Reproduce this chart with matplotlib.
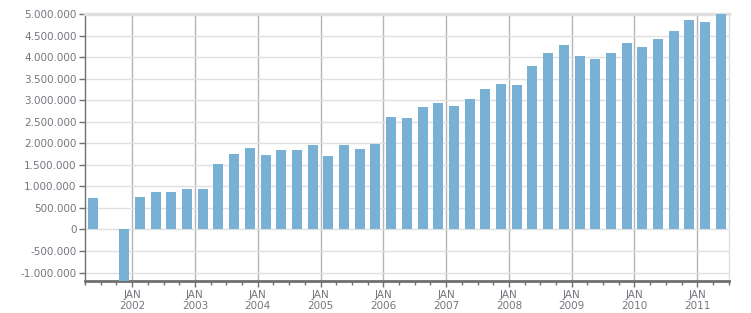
import numpy as np
import matplotlib
matplotlib.use('Agg')
import matplotlib.pyplot as plt
import matplotlib.ticker as mtick

# quarterly values, Q2 2001 .. Q2 2011 (Q3 2001 has no bar)
quarters = [
	'2001Q2', '2001Q3', '2001Q4',
	'2002Q1', '2002Q2', '2002Q3', '2002Q4',
	'2003Q1', '2003Q2', '2003Q3', '2003Q4',
	'2004Q1', '2004Q2', '2004Q3', '2004Q4',
	'2005Q1', '2005Q2', '2005Q3', '2005Q4',
	'2006Q1', '2006Q2', '2006Q3', '2006Q4',
	'2007Q1', '2007Q2', '2007Q3', '2007Q4',
	'2008Q1', '2008Q2', '2008Q3', '2008Q4',
	'2009Q1', '2009Q2', '2009Q3', '2009Q4',
	'2010Q1', '2010Q2', '2010Q3', '2010Q4',
	'2011Q1', '2011Q2',
]
values = [
	720000, np.nan, -1250000,
	745000, 860000, 860000, 930000,
	930000, 1510000, 1740000, 1880000,
	1720000, 1840000, 1840000, 1950000,
	1700000, 1950000, 1860000, 1980000,
	2600000, 2580000, 2840000, 2930000,
	2860000, 3020000, 3260000, 3370000,
	3350000, 3790000, 4090000, 4280000,
	4020000, 3950000, 4090000, 4330000,
	4230000, 4420000, 4600000, 4860000,
	4810000, 5000000,
]
year_labels = ['2002', '2003', '2004', '2005', '2006', '2007', '2008', '2009', '2010', '2011']

text_col = '#75757f'
bar_col = '#78b1d3'

fig = plt.figure(figsize=(7.51, 3.13), dpi=100)
ax = fig.add_axes([0.1132, 0.1032, 0.8571, 0.8521])

x = np.arange(len(quarters)) + 0.5
ax.bar(x, values, width=0.64, color=bar_col, zorder=3)

ax.set_xlim(0, len(quarters))
ax.set_ylim(-1190000, 5000000)

# year ticks sit on the first quarter of each year
major = [quarters.index(y + 'Q1') for y in year_labels]
ax.set_xticks(major)
ax.set_xticklabels(['JAN\n' + y for y in year_labels])
ax.set_xticks(np.arange(len(quarters) + 1), minor=True)

ax.yaxis.set_major_locator(mtick.MultipleLocator(500000))
ax.yaxis.set_major_formatter(mtick.FuncFormatter(lambda v, p: '{:,.0f}'.format(v).replace(',', '.')))

ax.grid(axis='y', color='#e0e0e0', linewidth=1, zorder=0)
ax.grid(axis='x', which='major', color='#b4b4b4', linewidth=1, zorder=1)
ax.set_axisbelow(True)

ax.tick_params(axis='both', which='both', direction='out', colors='#707070', labelcolor=text_col, labelsize=7.5)
ax.tick_params(axis='y', length=4, width=1, pad=2)
ax.tick_params(axis='x', which='major', length=4, width=1, pad=3)
ax.tick_params(axis='x', which='minor', length=3, width=1)
for lab in ax.get_xticklabels():
	lab.set_linespacing(1.1)

ax.spines['left'].set_color('#707070')
ax.spines['left'].set_linewidth(1)
ax.spines['bottom'].set_color('#707070')
ax.spines['bottom'].set_linewidth(2)
ax.spines['top'].set_color('#e0e0e0')
ax.spines['top'].set_linewidth(2.5)
ax.spines['right'].set_color('#e0e0e0')
ax.spines['right'].set_linewidth(1)

fig.savefig('out.png', dpi=100)
